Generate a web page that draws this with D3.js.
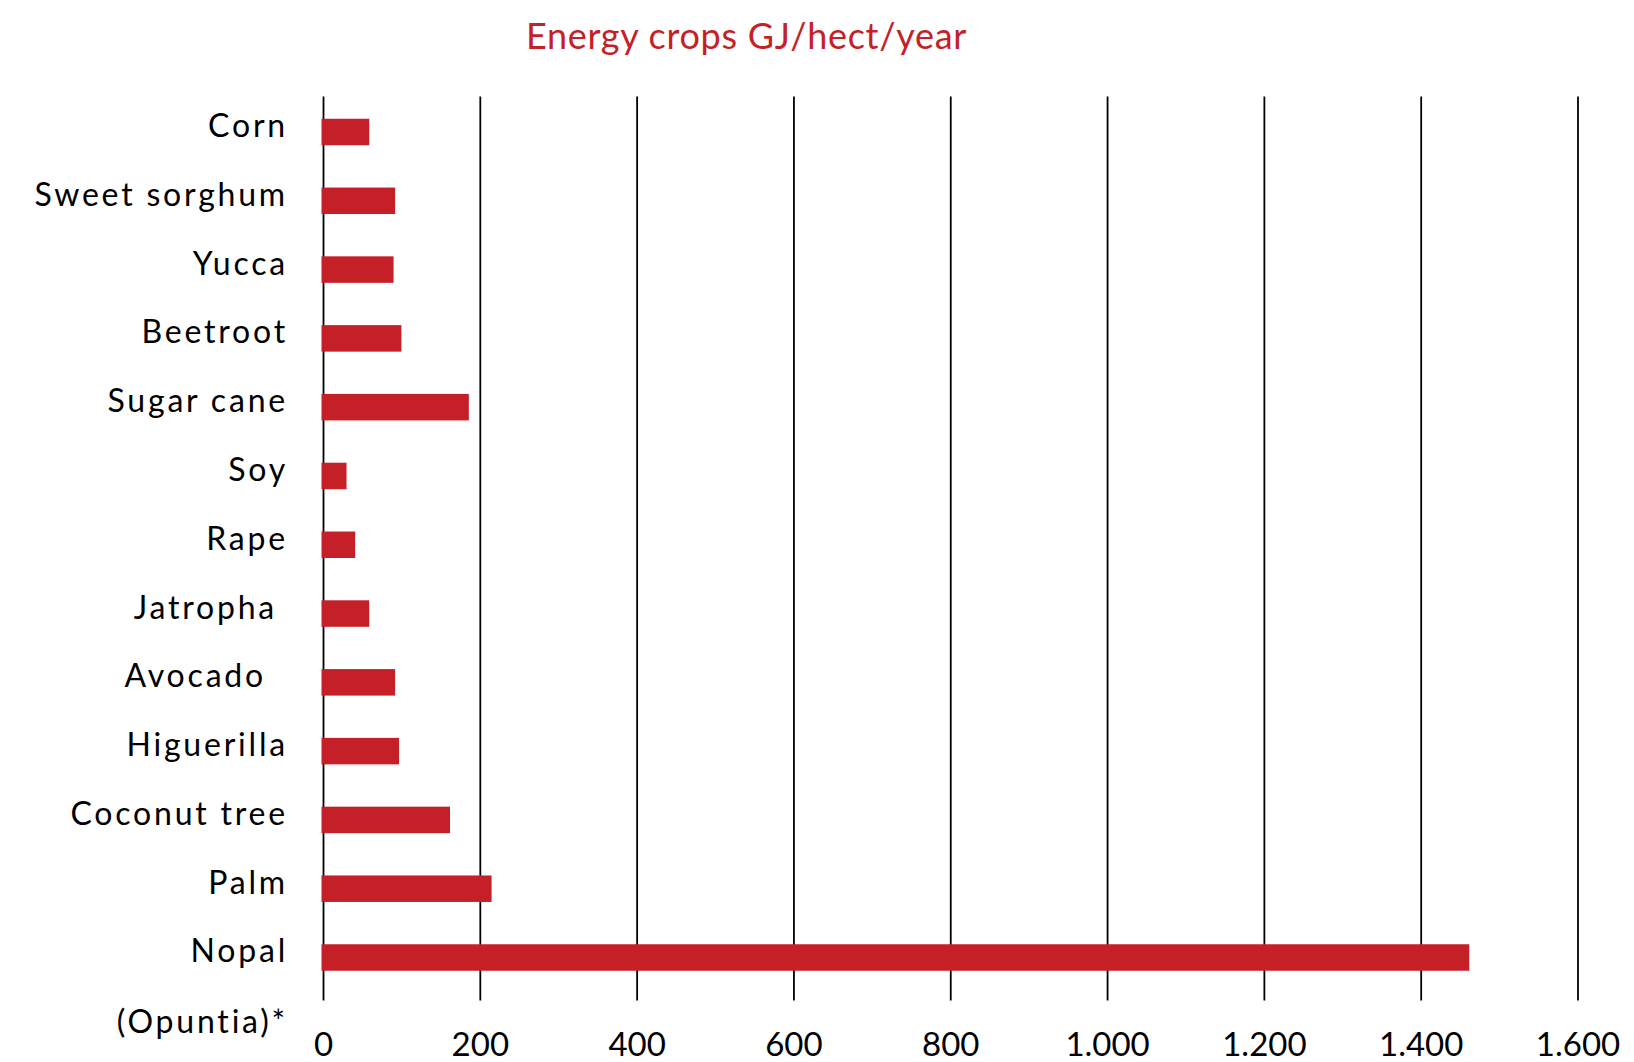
<!DOCTYPE html>
<html>
<head>
<meta charset="utf-8">
<script src="https://cdn.jsdelivr.net/npm/d3@7"></script>
<style>
  html, body { margin: 0; padding: 0; background: #fff; }
  svg { display: block; }
  .cat { white-space: pre; }
</style>
</head>
<body>
<svg id="chart" width="1634" height="1062"></svg>
<script>
const categories = ["Corn", "Sweet sorghum", "Yucca", "Beetroot", "Sugar cane", "Soy", "Rape",
  "Jatropha ", "Avocado  ", "Higuerilla", "Coconut tree", "Palm", "Nopal"];
const values = [59, 92, 90, 100, 186, 30, 41, 59, 92, 97, 162, 215, 1462];
const subLabels = {"Nopal": "(Opuntia)*"};
const tickValues = [0, 200, 400, 600, 800, 1000, 1200, 1400, 1600];
const title = "Energy crops GJ/hect/year";

const W = 1634, H = 1062;
const red = "#C51F28";
const svg = d3.select("#chart");

const gridTop = 96.5, gridBottom = 1000.5;
const x = d3.scaleLinear().domain([0, 1600]).range([323, 1577.5]);
const y = d3.scaleBand().domain(categories).range([105, 984.5]).paddingInner(0.615).paddingOuter(0.2);

const loc = d3.formatLocale({decimal: ",", thousands: ".", grouping: [3], currency: ["", ""]});
const fmt = loc.format(",d");

// Title
svg.append("text")
  .attr("x", 746.5).attr("y", 48.5)
  .attr("text-anchor", "middle")
  .attr("fill", red)
  .style("font-family", "Lato, 'Open Sans', sans-serif")
  .style("font-size", "36px")
  .style("letter-spacing", "0.7px")
  .text(title);

// Axis with gridlines
const axis = d3.axisBottom(x)
  .tickValues(tickValues)
  .tickFormat(fmt)
  .tickSizeInner(-(gridBottom - gridTop))
  .tickSizeOuter(0);

const gAxis = svg.append("g")
  .attr("transform", `translate(0,${gridBottom})`)
  .call(axis);
gAxis.select(".domain").remove();
gAxis.selectAll(".tick line").attr("stroke", "#000").attr("stroke-width", 1.8);
gAxis.selectAll(".tick text")
  .attr("y", 55).attr("dy", 0)
  .attr("fill", "#000")
  .style("font-family", "Lato, 'Open Sans', sans-serif")
  .style("font-size", "33px");

// Bars
svg.append("g").selectAll("rect")
  .data(categories.map((c, i) => ({c, v: values[i]})))
  .join("rect")
  .attr("x", x(0) - 1.5)
  .attr("y", d => y(d.c))
  .attr("width", d => x(d.v) - x(0) + 1.5)
  .attr("height", y.bandwidth())
  .attr("fill", red);

// Category labels
const labels = svg.append("g").selectAll("text")
  .data(categories)
  .join("text")
  .attr("class", "cat")
  .attr("x", 288)
  .attr("y", d => y(d) + y.bandwidth() / 2 + 5)
  .attr("text-anchor", "end")
  .attr("fill", "#000")
  .style("font-family", "Lato, 'Open Sans', sans-serif")
  .style("font-size", "32px")
  .style("letter-spacing", "2.8px");
labels.append("tspan").text(d => d);
labels.filter(d => subLabels[d]).append("tspan")
  .attr("x", 288).attr("dy", 71)
  .text(d => subLabels[d]);
</script>
</body>
</html>
